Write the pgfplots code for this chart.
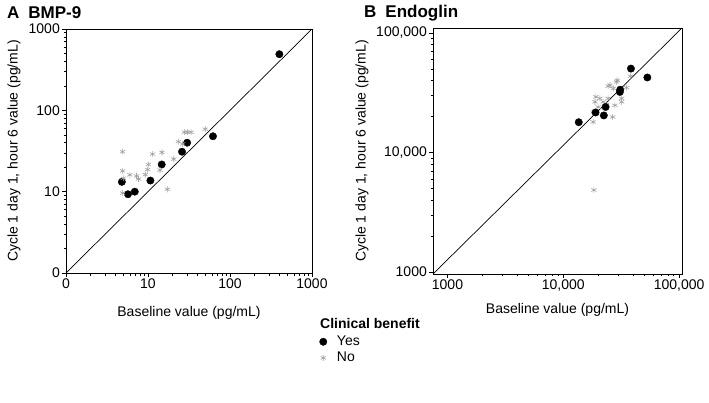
\documentclass[border=0pt]{standalone}
\usepackage{pgfplots}
\pgfplotsset{compat=1.18}
\usepackage{fontspec}
\setmainfont{Liberation Sans}
\definecolor{stargray}{HTML}{A0A0A0}
\begin{document}
\begin{tikzpicture}
\path (0pt,0pt) rectangle (709pt,-402pt);
\pgfplotsset{
  every axis/.append style={
    scale only axis,
    xmode=log, ymode=log,
    axis line style={black, line width=0.8pt},
    tick pos=left, tick align=outside,
    major tick length=4pt, minor tick length=2.5pt,
    every tick/.style={black, line width=0.6pt},
    tick label style={font=\fontsize{14}{16}\selectfont, inner sep=2pt},
    label style={font=\fontsize{14}{16}\selectfont},
    /pgf/number format/assume math mode=true,
    clip=false,
  },
}
\begin{axis}[
  at={(66pt,-273pt)}, anchor=south west,
  width=246pt, height=244pt,
  xmin=1, xmax=1000, ymin=1, ymax=1000,
  xtick={1,10,100,1000}, xticklabels={0,10,100,1000},
  ytick={1,10,100,1000}, yticklabels={0,10,100,1000},
  xlabel={Baseline value (pg/mL)},
  ylabel={Cycle 1 day 1, hour 6 value (pg/mL)},
  xlabel style={at={(axis description cs:0.5,0)}, anchor=north, yshift=-30pt},
  ylabel style={at={(axis description cs:0,0.5)}, anchor=south, xshift=0pt, yshift=42pt},
  legend style={at={(1.03,-0.25)}, anchor=north west, draw=none, fill=none,
    font=\fontsize{14}{16}\selectfont, row sep=1pt,
    inner sep=0pt, /tikz/every odd column/.append style={column sep=8pt}},
  legend cell align=left,
]
\addplot[black, line width=0.7pt, forget plot] coordinates {(1,1) (1000,1000)};
\addplot[only marks, mark=*, mark size=3.7pt, black] coordinates {
(400,490) (62,48) (30,40) (26,31) (14.7,21.6) (10.7,13.7) (4.8,13.2) (5.7,9.3) (6.9,10.0)
};
\addlegendentry{Yes}
\addplot[only marks, mark=asterisk, mark size=3pt, stargray, line width=0.6pt] coordinates {
(4.9,31.0) (4.9,18.0) (5.0,14.6) (6.0,16.1) (7.25,15.6) (7.67,14.3) (9.27,16.2)
(9.9,18.7) (10.1,21.6) (11.4,29) (14.8,30.4) (14.0,18.4) (17.2,10.7) (4.9,9.6)
(20.6,25.1) (23.5,41.2) (26.5,38.6) (27.8,53.8) (30.5,53.8) (33.6,53.8) (49.9,58.6)
};
\addlegendentry{No}
\end{axis}
\node[anchor=west, font=\fontsize{14}{16}\selectfont\bfseries, inner sep=0pt] at (320pt,-323pt) {Clinical benefit};
\begin{axis}[
  at={(433pt,-274pt)}, anchor=south west,
  width=249pt, height=246pt,
  xmin=750, xmax=106000, ymin=960, ymax=110000,
  xtick={1000,10000,100000}, xticklabels={1000,{10,000},{100,000}},
  ytick={1000,10000,100000}, yticklabels={1000,{10,000},{100,000}},
  xlabel={Baseline value (pg/mL)},
  ylabel={Cycle 1 day 1, hour 6 value (pg/mL)},
  xlabel style={at={(axis description cs:0.5,0)}, anchor=north, yshift=-26pt},
  ylabel style={at={(axis description cs:0,0.5)}, anchor=south, yshift=61pt},
]
\addplot[black, line width=0.7pt] coordinates {(750,960) (106000,110000)};
\addplot[only marks, mark=asterisk, mark size=3pt, stargray, line width=0.6pt] coordinates {
(38000,43400) (29200,40200) (25300,36500) (27000,34300) (35200,34900) (31900,28300)
(31900,26500) (27900,24800) (19100,29200) (20700,28300) (18800,26500) (22100,26500)
(24400,28300) (23700,25200) (20000,24000) (18100,21800) (19400,21200) (18100,18000)
(26700,19800) (18400,4840) (24400,35800) (28900,38900)
};
\addplot[only marks, mark=*, mark size=3.7pt, black] coordinates {
(38400,50300) (53200,42400) (30800,32100) (31000,33500) (23200,24000) (22400,20400)
(19000,21600) (13600,17900)
};
\end{axis}
\node[anchor=west, font=\fontsize{17}{19}\selectfont\bfseries, inner sep=0pt] at (7pt,-13pt) {A\hspace{9pt}BMP-9};
\node[anchor=west, font=\fontsize{17}{19}\selectfont\bfseries, inner sep=0pt] at (364pt,-13pt) {B\hspace{9pt}Endoglin};
\end{tikzpicture}
\end{document}
